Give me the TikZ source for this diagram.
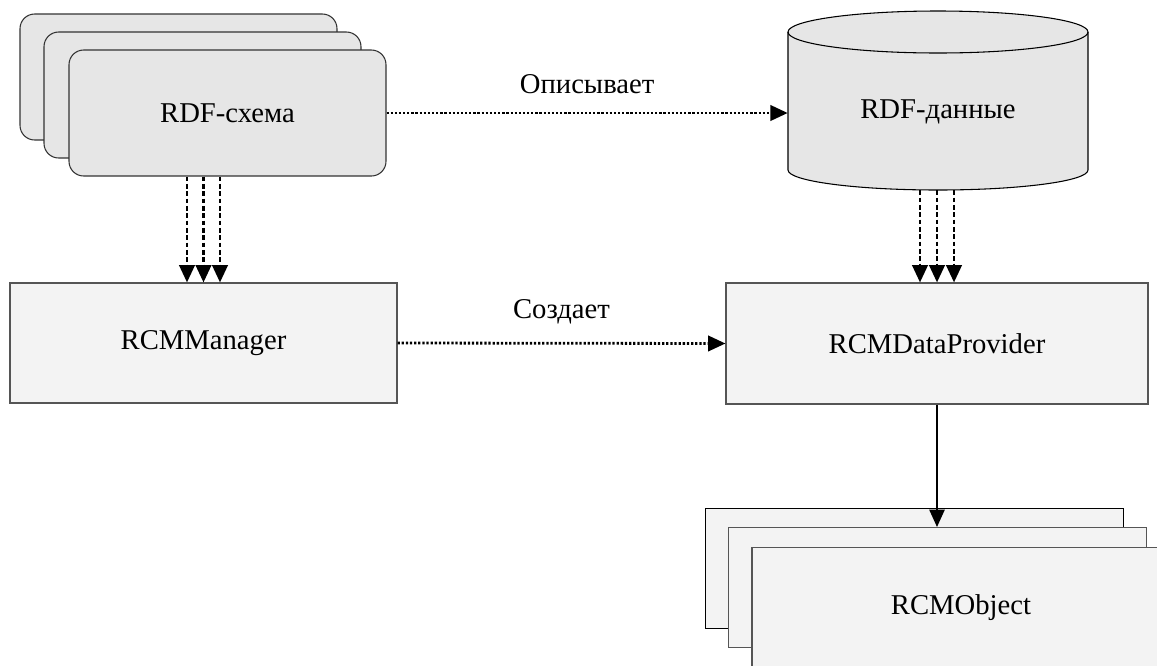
\documentclass[tikz,border=0pt]{standalone}
\usepackage{fontspec}
\setmainfont{Liberation Serif}
\usetikzlibrary{arrows.meta}
\definecolor{cardfill}{HTML}{E6E6E6}
\definecolor{boxfill}{HTML}{F3F3F3}
\definecolor{boxline}{HTML}{555555}
\tikzset{
  card/.style={draw=black!80, fill=cardfill, line width=0.8pt, rounded corners=11pt,
    minimum width=237.75pt, minimum height=94.5pt, inner sep=0pt},
  plainbox/.style={draw=boxline, fill=boxfill, line width=0.8pt,
    inner sep=0pt},
  lbl/.style={font=\fontsize{21.5}{24}\selectfont},
  tip/.style={-{Triangle[length=13pt,width=11.5pt]}},
  dotline/.style={tip, line width=2.1pt, dash pattern=on 1.7pt off 1.4pt},
  dashline/.style={tip, line width=2.1pt, dash pattern=on 3.5pt off 2pt},
  solidline/.style={tip, line width=1.2pt},
}
\begin{document}
\begin{tikzpicture}[x=0.75pt, y=-0.75pt]
\useasboundingbox (0,0) rectangle (1157,665);

% stack of schema cards
\node[card] (schema3) at (178.5,77) {};
\node[card] (schema2) at (202.5,95) {};
\node[card, lbl] (schema) at (227.5,113) {RDF-схема};

% data store cylinder (y axis points down, so the lower rim runs 180 -> 0)
\fill[cardfill] (788,32) -- (788,170) arc[start angle=180, end angle=0, x radius=150, y radius=20]
  -- (1088,32) arc[start angle=0, end angle=-180, x radius=150, y radius=21] -- cycle;
\draw[line width=0.8pt] (788,32) -- (788,170) arc[start angle=180, end angle=0, x radius=150, y radius=20]
  -- (1088,32);
\draw[line width=0.8pt] (938,32) ellipse[x radius=150, y radius=21];
\node[minimum width=225pt, minimum height=135pt, inner sep=0pt] (data) at (938,100) {};
\node[lbl] (datalbl) at (938,112) {RDF-данные};

% managers
\node[plainbox, lbl, minimum width=290.25pt, minimum height=90pt] (mgr) at (203.5,343) {RCMManager};
\node[plainbox, lbl, minimum width=316.5pt, minimum height=90.75pt] (prov) at (937,343.5) {RCMDataProvider};

% stack of object boxes
\node[plainbox, draw=black, line width=0.75pt, minimum width=313.5pt, minimum height=90pt] (obj3) at (914,568) {};
\node[plainbox, minimum width=313.5pt, minimum height=90pt] (obj2) at (937.5,587.5) {};
\node[plainbox, lbl, minimum width=313.5pt, minimum height=90pt] (obj) at (961,607.5) {RCMObject};

% schema describes data
\draw[dotline] (schema.east) -- (schema.east -| data.west)
  node[midway, above=10pt, lbl] (describes) {Описывает};

% manager creates provider
\draw[dotline] (mgr.east) -- (prov.west)
  node[midway, above=10pt, lbl] (creates) {Создает};

% schema cards feed the manager
\foreach \dx in {-16.5,0,16.5}
  \draw[dashline] ([xshift=\dx*0.75pt]mgr.north |- schema.south) -- ([xshift=\dx*0.75pt]mgr.north);

% data feeds the provider
\foreach \dx in {-17,0,17}
  \draw[dashline] ([xshift=\dx*0.75pt]prov.north |- data.south) -- ([xshift=\dx*0.75pt]prov.north);

% provider produces objects
\draw[solidline] (prov.south) -- (prov.south |- obj2.north);
\end{tikzpicture}
\end{document}
